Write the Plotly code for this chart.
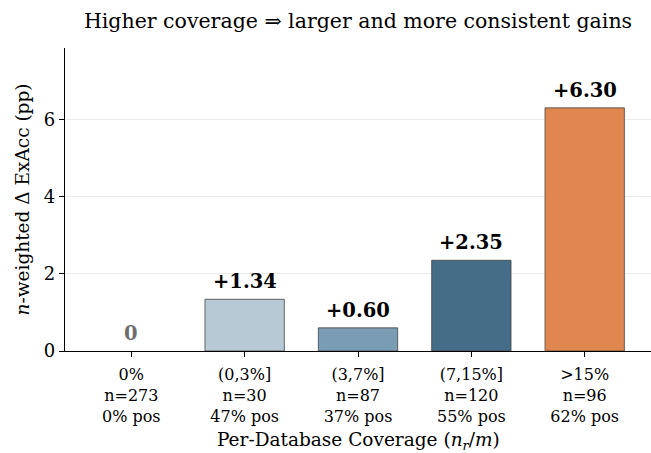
import plotly.graph_objects as go

categories = ["0%", "(0,3%]", "(3,7%]", "(7,15%]", ">15%"]
counts = [273, 30, 87, 120, 96]
pos_pct = [0, 47, 37, 55, 62]
gains = [0.0, 1.34, 0.60, 2.35, 6.30]
value_labels = ["0", "+1.34", "+0.60", "+2.35", "+6.30"]
colors = ["#cfd8df", "#b8c9d6", "#7a9db3", "#456d87", "#e0874f"]
label_colors = ["#6e6e6e", "#000000", "#000000", "#000000", "#000000"]

tick_text = [f"{c}<br>n={n}<br>{p}% pos" for c, n, p in zip(categories, counts, pos_pct)]
xs = list(range(len(categories)))
edge_widths = [0 if g == 0 else 0.8 for g in gains]

FONT = "DejaVu Serif"

fig = go.Figure()
fig.add_trace(go.Bar(
    x=xs, y=gains, width=0.7,
    marker=dict(color=colors, line=dict(color="#444444", width=edge_widths)),
    showlegend=False, hoverinfo="skip",
))

for x, g, t, c in zip(xs, gains, value_labels, label_colors):
    fig.add_annotation(x=x, y=g, text=f"<b>{t}</b>", showarrow=False,
                       yanchor="bottom", yshift=4,
                       font=dict(family=FONT, size=19.5, color=c))

# x-axis title
fig.add_annotation(x=0.5, xref="paper", y=0, yref="paper",
                   text="Per-Database Coverage (<i>n<sub>r</sub></i>/<i>m</i>)",
                   showarrow=False, xanchor="center", yanchor="middle", yshift=-90,
                   font=dict(family=FONT, size=18.5, color="black"))

fig.update_layout(
    width=651, height=453,
    margin=dict(l=65, r=0, t=48, b=102),
    plot_bgcolor="white", paper_bgcolor="white",
    font=dict(family=FONT, color="black"),
    title=dict(text="Higher coverage ⇒ larger and more consistent gains",
               x=0.5, xref="paper", y=0.955, yanchor="middle",
               font=dict(family=FONT, size=20.5, color="black")),
)

fig.update_xaxes(
    range=[-0.585, 4.585],
    tickmode="array", tickvals=xs, ticktext=tick_text,
    tickfont=dict(family=FONT, size=16, color="black"),
    ticklabelstandoff=4,
    showline=True, linecolor="black", linewidth=1.2,
    ticks="outside", ticklen=5, tickcolor="black",
    showgrid=False, zeroline=False, automargin=False,
)
fig.update_yaxes(
    range=[0, 7.85],
    tickvals=[0, 2, 4, 6],
    tickfont=dict(family=FONT, size=18, color="black"),
    showline=True, linecolor="black", linewidth=1.2,
    ticks="outside", ticklen=5, tickcolor="black",
    showgrid=True, gridcolor="#ebebeb", gridwidth=1,
    zeroline=False, automargin=False,
    title=dict(text="<i>n</i>-weighted Δ ExAcc (pp)",
               font=dict(family=FONT, size=18.5, color="black"), standoff=9),
)

fig.write_html("out.html", config={"displayModeBar": False},
               post_script="document.body.style.margin='0';")
